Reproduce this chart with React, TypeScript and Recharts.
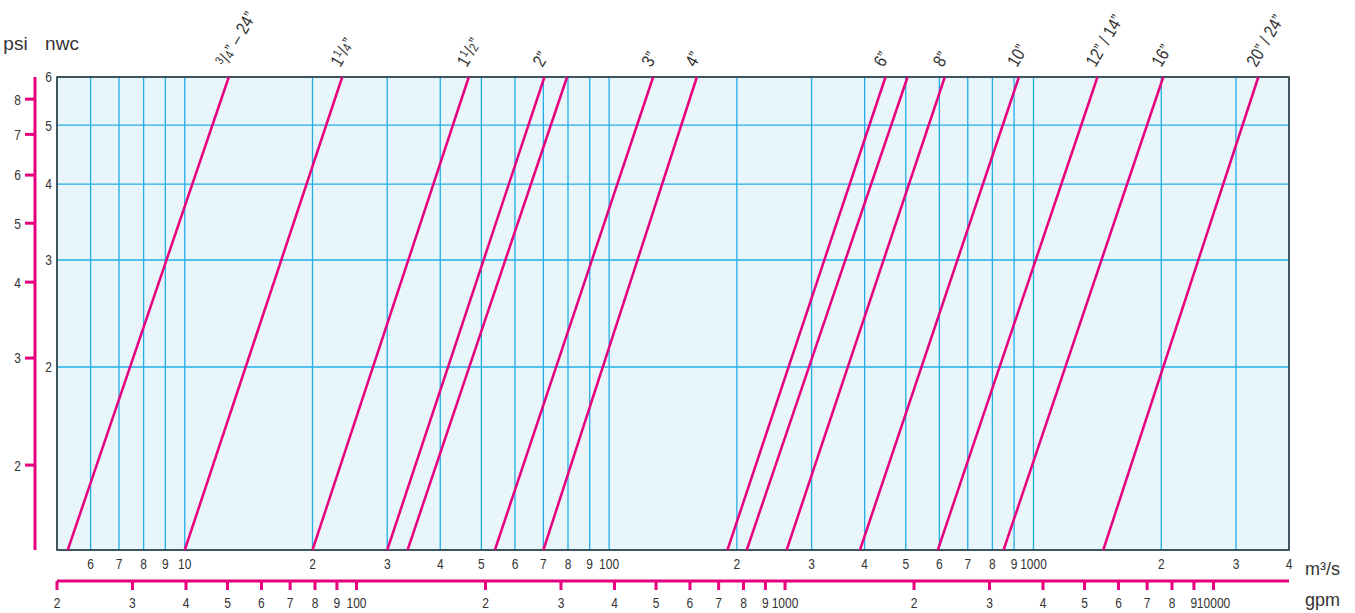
import { LineChart, Line, XAxis, YAxis, CartesianGrid, ReferenceArea } from 'recharts'

const FONT = "'Liberation Sans', Arial, sans-serif"
const PINK = '#e6007e'
const GRID_BLUE = '#22ade6'
const INK = '#333333'
const SQUEEZE = 0.8 // the original uses a condensed face

// flow axis (m3/s) – gridlines and their labels
const flowTicks = [6, 7, 8, 9, 10, 20, 30, 40, 50, 60, 70, 80, 90, 100, 200, 300, 400, 500, 600, 700, 800, 900, 1000, 2000, 3000, 4000]
const flowTickLabels = ['6', '7', '8', '9', '10', '2', '3', '4', '5', '6', '7', '8', '9', '100', '2', '3', '4', '5', '6', '7', '8', '9', '1000', '2', '3', '4']
const flowRange = [5, 4000]

// gpm scale underneath
const gpmTicks = [20, 30, 40, 50, 60, 70, 80, 90, 100, 200, 300, 400, 500, 600, 700, 800, 900, 1000, 2000, 3000, 4000, 5000, 6000, 7000, 8000, 9000, 10000]
const gpmTickLabels = ['2', '3', '4', '5', '6', '7', '8', '9', '100', '2', '3', '4', '5', '6', '7', '8', '9', '1000', '2', '3', '4', '5', '6', '7', '8', '9', '10000']
const gpmRange = [20, 15000]

// pressure drop
const nwcTicks = [2, 3, 4, 5, 6]
const psiTicks = [2, 3, 4, 5, 6, 7, 8]
const PSI_PER_NWC = 1.45

// pipe sizes: flow where each line enters at nwc 1 and leaves at nwc 6
const pipeNames = ['3/4” – 24”', '11/4”', '11/2”', '2”', '', '3”', '4”', '6”', '', '8”', '10”', '12” / 14”', '16”', '20” / 24”']
const flowAtBottom = [5.3, 10, 20, 30, 33.5, 53.8, 70, 190, 211, 262, 390, 595, 850, 1460]
const flowAtTop = [12.7, 23.5, 46.7, 70.4, 79.6, 127, 161, 448, 505, 618, 924, 1415, 2022, 3387]
const nwcBottom = 1
const nwcTop = 6

const pipes = pipeNames.map((name, i) => ({
  name,
  data: [
    { q: flowAtBottom[i], nwc: nwcBottom },
    { q: flowAtTop[i], nwc: nwcTop },
  ],
}))

// only there so the gpm axis gets a domain
const gpmSpan = gpmRange.map(g => ({ gpm: g, nwc: nwcBottom }))

const lookup = (ticks: number[], labels: string[]) => (v: number) => {
  const i = ticks.findIndex(t => Math.abs(t - v) < 1e-6)
  return i >= 0 ? labels[i] : String(v)
}

const xTick = (fmt: (v: number) => string) => (props: any) => {
  const { x, y, payload } = props
  return (
    <text
      transform={`translate(${x},${y}) scale(${SQUEEZE},1)`}
      textAnchor="middle"
      dy="0.71em"
      fontSize={15}
      fontFamily={FONT}
      fill={INK}
    >
      {fmt(payload.value)}
    </text>
  )
}

const yTick = (props: any) => {
  const { x, y, payload } = props
  return (
    <text
      transform={`translate(${x},${y}) scale(${SQUEEZE},1)`}
      textAnchor="end"
      dy="0.36em"
      fontSize={15}
      fontFamily={FONT}
      fill={INK}
    >
      {payload.value}
    </text>
  )
}

function pipeLabel(name: string) {
  return (props: any) => {
    const { cx, cy, index } = props
    if (index !== 1 || !name) return <g key={`d${index}`} />
    // fraction like 1 1/4 -> small raised numerator
    const m = name.match(/^(\d*?)(\d)\/(\d)(.*)$/)
    return (
      <text
        key={`d${index}`}
        transform={`translate(${cx - 2},${cy - 9}) rotate(-60) scale(0.84,1)`}
        fontSize={18}
        fontFamily={FONT}
        fill={INK}
      >
        {m ? (
          <>
            {m[1] ? <tspan>{m[1]}</tspan> : null}
            <tspan fontSize={12} dy={-6}>{m[2]}</tspan>
            <tspan dy={6}>/</tspan>
            <tspan fontSize={13}>{m[3]}</tspan>
            <tspan>{m[4]}</tspan>
          </>
        ) : (
          name
        )}
      </text>
    )
  }
}

const unitStyle = { fill: INK, fontSize: 18, fontFamily: FONT }

export default function App() {
  return (
    <div style={{ position: 'absolute', left: 0, top: 0, width: 1355, height: 613 }}>
      <LineChart width={1355} height={613} margin={{ top: 77, right: 66, bottom: 0, left: 0 }}>
        <CartesianGrid
          xAxisId="flow"
          yAxisId="nwc"
          stroke={GRID_BLUE}
          strokeWidth={1.3}
          fill="#e8f5fb"
          fillOpacity={1}
        />

        <XAxis
          xAxisId="flow"
          dataKey="q"
          type="number"
          scale="log"
          domain={flowRange}
          ticks={flowTicks}
          interval={0}
          axisLine={false}
          tickLine={false}
          tickSize={0}
          tickMargin={8}
          height={31}
          tick={xTick(lookup(flowTicks, flowTickLabels))}
          label={{ value: 'm³/s', position: 'right', offset: 16, dy: 3, style: unitStyle }}
        />
        <XAxis
          xAxisId="gpm"
          dataKey="gpm"
          type="number"
          scale="log"
          domain={gpmRange}
          allowDataOverflow
          ticks={gpmTicks}
          interval={0}
          axisLine={{ stroke: PINK, strokeWidth: 3 }}
          tickLine={{ stroke: PINK, strokeWidth: 3 }}
          tickSize={9}
          tickMargin={7}
          height={32}
          tick={xTick(lookup(gpmTicks, gpmTickLabels))}
          label={{ value: 'gpm', position: 'right', offset: 16, dy: 3, style: unitStyle }}
        />

        <YAxis
          yAxisId="nwc"
          type="number"
          scale="log"
          domain={[nwcBottom, nwcTop]}
          ticks={nwcTicks}
          interval={0}
          axisLine={false}
          tickLine={false}
          tickSize={0}
          tickMargin={5}
          width={22}
          tick={yTick}
          label={{ value: 'nwc', position: 'top', offset: 27, dx: 16, style: { ...unitStyle, fontSize: 19 } }}
        />
        <YAxis
          yAxisId="psi"
          type="number"
          scale="log"
          domain={[nwcBottom * PSI_PER_NWC, nwcTop * PSI_PER_NWC]}
          allowDataOverflow
          ticks={psiTicks}
          interval={0}
          axisLine={{ stroke: PINK, strokeWidth: 3 }}
          tickLine={{ stroke: PINK, strokeWidth: 3 }}
          tickSize={10}
          tickMargin={4}
          width={35}
          tick={yTick}
          label={{ value: 'psi', position: 'top', offset: 27, dx: -2, style: { ...unitStyle, fontSize: 19 } }}
        />

        <Line
          xAxisId="gpm"
          yAxisId="nwc"
          data={gpmSpan}
          dataKey="nwc"
          stroke="none"
          dot={false}
          activeDot={false}
          legendType="none"
          isAnimationActive={false}
        />

        {pipes.map((p, i) => (
          <Line
            key={i}
            xAxisId="flow"
            yAxisId="nwc"
            data={p.data}
            dataKey="nwc"
            stroke={PINK}
            strokeWidth={2.5}
            dot={pipeLabel(p.name)}
            activeDot={false}
            isAnimationActive={false}
          />
        ))}

        <ReferenceArea
          xAxisId="flow"
          yAxisId="nwc"
          x1={flowRange[0]}
          x2={flowRange[1]}
          y1={nwcBottom}
          y2={nwcTop}
          fill="none"
          fillOpacity={0}
          stroke={INK}
          strokeWidth={1.5}
        />
      </LineChart>
    </div>
  )
}
